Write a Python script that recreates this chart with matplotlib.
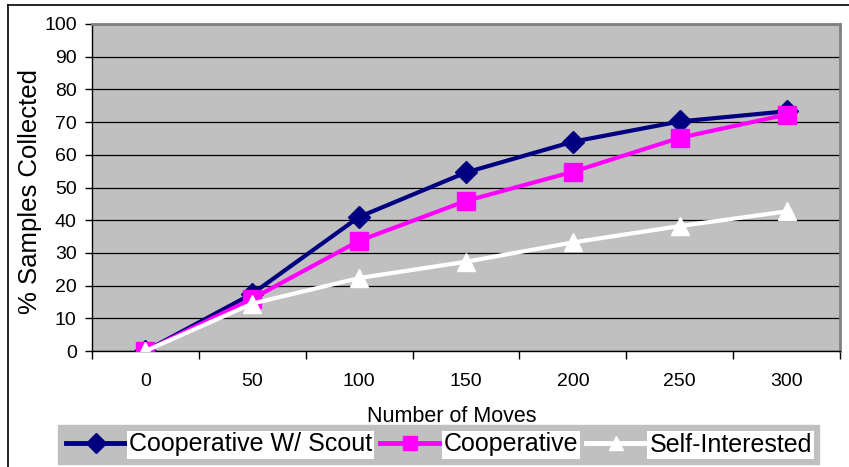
import matplotlib
matplotlib.use("Agg")
import matplotlib.pyplot as plt
from matplotlib.lines import Line2D

moves = ["0", "50", "100", "150", "200", "250", "300"]
coop_scout = [0, 17.5, 41, 54.6, 64, 70.2, 73.3]
cooperative = [0, 16, 33.7, 45.9, 54.8, 65.2, 72.3]
self_interested = [0, 14.5, 22.3, 27.3, 33.2, 38.2, 42.7]
y_ticks = list(range(0, 101, 10))

plt.rcParams["font.family"] = ["Liberation Sans", "DejaVu Sans"]

W, H = 849, 467
fig = plt.figure(figsize=(W / 100, H / 100), dpi=100)

# outer frame (left and top edges visible)
fig.add_artist(Line2D([8 / W, 8 / W], [0, 1 - 5 / H], color="black", lw=1.2,
                      transform=fig.transFigure))
fig.add_artist(Line2D([8 / W, 1], [1 - 5 / H, 1 - 5 / H], color="black", lw=1.2,
                      transform=fig.transFigure))

left, right, top, bottom = 92, 840, 24, 351
ax = fig.add_axes([left / W, 1 - bottom / H, (right - left) / W, (bottom - top) / H])
ax.set_facecolor("#c0c0c0")

x = list(range(len(moves)))
ax.plot(x, coop_scout, color="#000080", lw=3, marker="D", ms=11,
        mec="#000080", mfc="#000080", zorder=3, label="Cooperative W/ Scout")
ax.plot(x, cooperative, color="#ff00ff", lw=3, marker="s", ms=13,
        mec="#ff00ff", mfc="#ff00ff", zorder=4, label="Cooperative")
ax.plot(x, self_interested, color="white", lw=3, marker="^", ms=13,
        mec="white", mfc="white", zorder=5, label="Self-Interested")

ax.set_xlim(-0.5, len(moves) - 0.5)
ax.set_ylim(0, 100)
ax.set_yticks(y_ticks)
ax.set_yticklabels([str(v) for v in y_ticks], fontsize=14)
ax.yaxis.grid(True, color="black", lw=0.9)
ax.set_axisbelow(True)

# tick marks at category boundaries, labels at category centres
ax.set_xticks([i - 0.5 for i in range(len(moves) + 1)])
ax.set_xticklabels([])
ax.set_xticks(x, minor=True)
ax.set_xticklabels(moves, minor=True, fontsize=14)
ax.tick_params(axis="x", which="major", length=6, width=1, direction="out")
ax.tick_params(axis="x", which="minor", length=0, pad=16)
ax.tick_params(axis="y", length=5, width=1, direction="out", pad=6)

for s in ("left", "bottom"):
    ax.spines[s].set_color("black")
    ax.spines[s].set_linewidth(1)
for s in ("top", "right"):
    ax.spines[s].set_color("#808080")
    ax.spines[s].set_linewidth(2)

fig.text(30 / W, 1 - 191 / H, "% Samples Collected", fontsize=18.5,
         rotation=90, ha="center", va="center")
fig.text(452 / W, 1 - 417 / H, "Number of Moves", fontsize=15.5,
         ha="center", va="center")

leg = fig.legend(loc="lower left", bbox_to_anchor=(58 / W, 1 - 464 / H),
                 ncol=3, fontsize=18, frameon=True, fancybox=False,
                 facecolor="#c0c0c0", edgecolor="#c0c0c0", framealpha=1,
                 borderpad=0.3, handlelength=2.4, handletextpad=0.15,
                 columnspacing=0.3, borderaxespad=0)
for t in leg.get_texts():
    t.set_bbox(dict(facecolor="white", edgecolor="none", pad=1.5))
for h in leg.legend_handles:
    h.set_markersize(10)
    h.set_linewidth(3.5)

fig.savefig("out.png", dpi=100)
